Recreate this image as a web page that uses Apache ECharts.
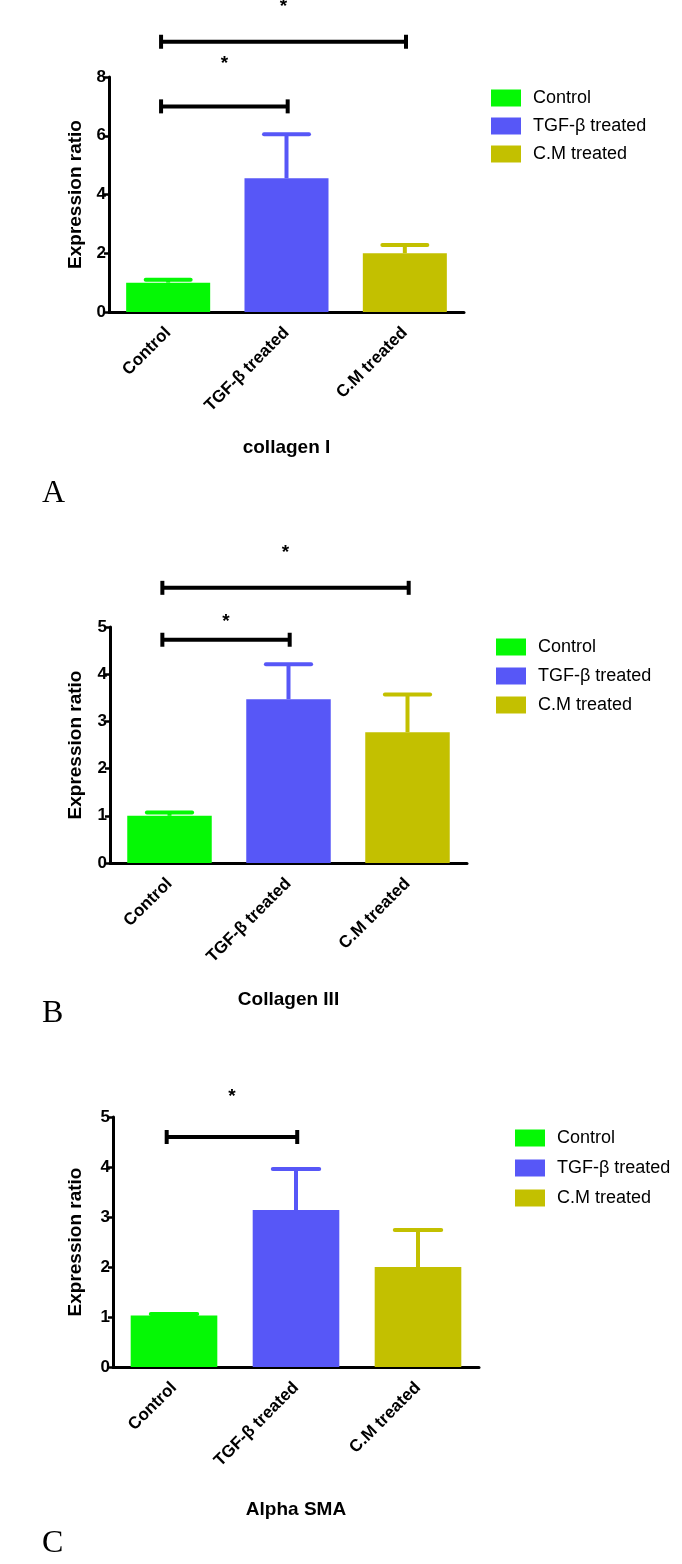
<!DOCTYPE html>
<html>
<head>
<meta charset="utf-8">
<script src="https://cdn.jsdelivr.net/npm/echarts@6/dist/echarts.min.js"></script>
<style>html,body{margin:0;padding:0;background:#fff;}#c{width:682px;height:1564px;}</style>
</head>
<body>
<div id="c"></div>
<script>
// ---- data ----
const categories = ['Control', 'TGF-β treated', 'C.M treated'];
const panelTitles = ['collagen I', 'Collagen III', 'Alpha SMA'];
const panelLetters = ['A', 'B', 'C'];
const meansA = [1.0, 4.55, 2.0];
const errA = [0.1, 1.5, 0.28];
const meansB = [1.0, 3.47, 2.77];
const errB = [0.07, 0.74, 0.8];
const meansC = [1.03, 3.14, 2.0];
const errC = [0.03, 0.82, 0.74];
const yMaxes = [8, 5, 5];
const yIntervals = [2, 1, 1];
// significance brackets: [fromCategory, toCategory, barLevel, starLevel]
const sigA = [[0, 1, 7.0, 8.45], [0, 2, 9.2, 10.4]];
const sigB = [[0, 1, 4.73, 5.12], [0, 2, 5.83, 6.57]];
const sigC = [[0, 1, 4.6, 5.4]];

const colors = ['#05f805', '#5757f7', '#c3c000'];
const FONT = '"Liberation Sans", Arial, sans-serif';

const panels = [
  { means: meansA, errs: errA, sig: sigA, grid: { left: 109, top: 77, width: 355, height: 235 }, legend: { left: 486, top: 84, gap: 10 }, nameGapY: 22, nameGapX: 126, letterTop: 478 },
  { means: meansB, errs: errB, sig: sigB, grid: { left: 110, top: 627, width: 357, height: 236 }, legend: { left: 491, top: 633, gap: 11 }, nameGapY: 25, nameGapX: 127, letterTop: 998 },
  { means: meansC, errs: errC, sig: sigC, grid: { left: 113, top: 1117, width: 366, height: 250 }, legend: { left: 510, top: 1124, gap: 12 }, nameGapY: 28, nameGapX: 133, letterTop: 1528 }
];

function errRender(params, api) {
  const idx = api.value(0), v = api.value(1), e = api.value(2);
  const p0 = api.coord([idx, v]);
  const p1 = api.coord([idx, v + e]);
  const half = api.size([1, 0])[0] * 0.19;
  const color = colors[idx];
  return { type: 'group', children: [
    { type: 'line', shape: { x1: p0[0], y1: p0[1], x2: p1[0], y2: p1[1] }, style: { stroke: color, lineWidth: 4 } },
    { type: 'line', shape: { x1: p1[0] - half, y1: p1[1], x2: p1[0] + half, y2: p1[1] }, style: { stroke: color, lineWidth: 4, lineCap: 'round' } }
  ]};
}

function sigRender(params, api) {
  const a = api.value(0), b = api.value(1), lvl = api.value(2), starLvl = api.value(3);
  const band = api.size([1, 0])[0];
  const pa = api.coord([a, lvl]);
  const pb = api.coord([b, lvl]);
  const ps = api.coord([a, starLvl]);
  const x0 = pa[0] - 0.06 * band, x1 = pb[0] + 0.01 * band, y = pa[1];
  const st = { stroke: '#000', lineWidth: 4 };
  return { type: 'group', children: [
    { type: 'line', shape: { x1: x0, y1: y, x2: x1, y2: y }, style: st },
    { type: 'line', shape: { x1: x0, y1: y - 7, x2: x0, y2: y + 7 }, style: st },
    { type: 'line', shape: { x1: x1, y1: y - 7, x2: x1, y2: y + 7 }, style: st },
    { type: 'text', x: (x0 + x1) / 2, y: ps[1], style: { text: '*', fill: '#000', font: 'bold 19px ' + FONT, align: 'center', verticalAlign: 'middle' } }
  ]};
}

const option = { backgroundColor: '#fff', animation: false, grid: [], xAxis: [], yAxis: [], legend: [], series: [], graphic: [] };

panels.forEach((p, k) => {
  option.grid.push(Object.assign({ containLabel: false }, p.grid));
  option.xAxis.push({
    type: 'category', gridIndex: k, data: categories,
    name: panelTitles[k], nameLocation: 'middle', nameGap: p.nameGapX,
    nameTextStyle: { fontFamily: FONT, fontWeight: 'bold', fontSize: 19, color: '#000' },
    axisLine: { lineStyle: { color: '#000', width: 3 } },
    axisTick: { alignWithLabel: true, length: 6, lineStyle: { color: '#000', width: 2.5 } },
    axisLabel: { rotate: 45, interval: 0, margin: 18, fontFamily: FONT, fontWeight: 'bold', fontSize: 17, color: '#000' },
    splitLine: { show: false }
  });
  option.yAxis.push({
    type: 'value', gridIndex: k, min: 0, max: yMaxes[k], interval: yIntervals[k],
    name: 'Expression ratio', nameLocation: 'middle', nameGap: p.nameGapY, nameRotate: 90,
    nameTextStyle: { fontFamily: FONT, fontWeight: 'bold', fontSize: 19, color: '#000' },
    axisLine: { show: true, lineStyle: { color: '#000', width: 3 } },
    axisTick: { show: true, length: 5, lineStyle: { color: '#000', width: 2.5 } },
    axisLabel: { margin: 3, fontFamily: FONT, fontWeight: 'bold', fontSize: 17, color: '#000' },
    splitLine: { show: false }
  });
  option.legend.push({
    orient: 'vertical', left: p.legend.left, top: p.legend.top, itemWidth: 30, itemHeight: 17, itemGap: p.legend.gap,
    icon: 'rect', selectedMode: false, data: categories,
    textStyle: { fontFamily: FONT, fontSize: 18, color: '#000', padding: [0, 0, 0, 7] }
  });
  categories.forEach((c, i) => {
    const d = p.means.map((m, j) => (j === i ? m : '-'));
    option.series.push({
      type: 'bar', name: c, xAxisIndex: k, yAxisIndex: k, data: d,
      barWidth: '71%', barGap: '-100%', itemStyle: { color: colors[i] }, z: 2
    });
  });
  option.series.push({
    type: 'custom', name: 'err' + k, xAxisIndex: k, yAxisIndex: k, renderItem: errRender, z: 3,
    data: p.means.map((m, j) => [j, m, p.errs[j]])
  });
  option.series.push({
    type: 'custom', name: 'sig' + k, xAxisIndex: k, yAxisIndex: k, renderItem: sigRender, clip: false, z: 4,
    data: p.sig
  });
  option.graphic.push({
    type: 'text', left: 42, top: p.letterTop,
    style: { text: panelLetters[k], font: '32px "Liberation Serif", "Times New Roman", serif', fill: '#000' }
  });
});

const chart = echarts.init(document.getElementById('c'), null, { renderer: 'canvas' });
chart.setOption(option);
</script>
</body>
</html>
